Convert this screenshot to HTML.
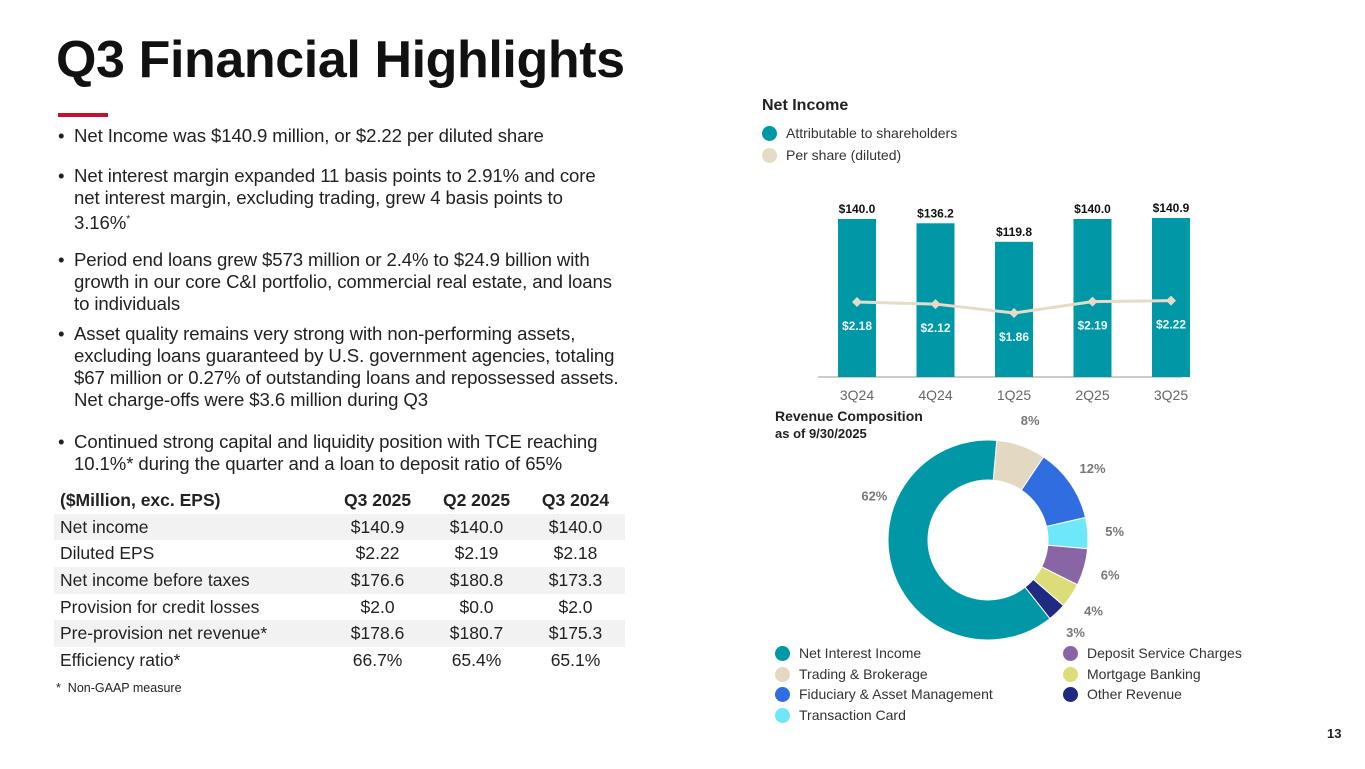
<!DOCTYPE html>
<html><head><meta charset="utf-8"><style>
body{margin:0;width:1365px;height:769px;background:#fff;font-family:"Liberation Sans",sans-serif;position:relative;overflow:hidden;color:#222}
.abs{position:absolute}
h1{position:absolute;left:56px;top:30px;margin:0;font-size:52px;font-weight:bold;color:#111;letter-spacing:-0.4px}
.bul{position:absolute;left:58px;font-size:18.6px;line-height:22px;color:#222;white-space:nowrap;letter-spacing:-0.1px}
.bul span.d{position:absolute;left:0}
.bul div{padding-left:16px}
table{position:absolute;left:54px;top:487px;width:571px;border-collapse:collapse;font-size:17.5px}
td,th{height:26.7px;padding:0 6px;text-align:center}
th{font-weight:bold}
td:first-child,th:first-child{text-align:left}
tr.s td{background:#f2f2f2}
.leg{position:absolute;font-size:14px;color:#333}
.dot{display:inline-block;width:15px;height:15px;border-radius:50%;vertical-align:-3px;margin-right:9px}
</style></head><body>
<h1>Q3 Financial Highlights</h1>
<div class="abs" style="left:58px;top:113px;width:50px;height:4px;background:#c8102e"></div>

<div class="bul" style="top:125px"><span class="d">•</span><div>Net Income was $140.9 million, or $2.22 per diluted share</div></div>
<div class="bul" style="top:165px"><span class="d">•</span><div>Net interest margin expanded 11 basis points to 2.91% and core<br>net interest margin, excluding trading, grew 4 basis points to<br>3.16%<sup style="font-size:10px">*</sup></div></div>
<div class="bul" style="top:249px"><span class="d">•</span><div>Period end loans grew $573 million or 2.4% to $24.9 billion with<br>growth in our core C&amp;I portfolio, commercial real estate, and loans<br>to individuals</div></div>
<div class="bul" style="top:323px"><span class="d">•</span><div>Asset quality remains very strong with non-performing assets,<br>excluding loans guaranteed by U.S. government agencies, totaling<br>$67 million or 0.27% of outstanding loans and repossessed assets.<br>Net charge-offs were $3.6 million during Q3</div></div>
<div class="bul" style="top:431px"><span class="d">•</span><div>Continued strong capital and liquidity position with TCE reaching<br>10.1%* during the quarter and a loan to deposit ratio of 65%</div></div>

<table>
<tr><th>($Million, exc. EPS)</th><th>Q3 2025</th><th>Q2 2025</th><th>Q3 2024</th></tr>
<tr class="s"><td>Net income</td><td>$140.9</td><td>$140.0</td><td>$140.0</td></tr>
<tr><td>Diluted EPS</td><td>$2.22</td><td>$2.19</td><td>$2.18</td></tr>
<tr class="s"><td>Net income before taxes</td><td>$176.6</td><td>$180.8</td><td>$173.3</td></tr>
<tr><td>Provision for credit losses</td><td>$2.0</td><td>$0.0</td><td>$2.0</td></tr>
<tr class="s"><td>Pre-provision net revenue*</td><td>$178.6</td><td>$180.7</td><td>$175.3</td></tr>
<tr><td>Efficiency ratio*</td><td>66.7%</td><td>65.4%</td><td>65.1%</td></tr>
</table>
<div class="abs" style="left:56px;top:681px;font-size:12.5px">*&nbsp; Non-GAAP measure</div>

<div class="abs" style="left:762px;top:97px;font-size:16px;font-weight:bold">Net Income</div>
<div class="leg" style="left:762px;top:125px"><span class="dot" style="background:#0097a7"></span>Attributable to shareholders</div>
<div class="leg" style="left:762px;top:147px"><span class="dot" style="background:#e6dcc6"></span>Per share (diluted)</div>

<svg class="abs" style="left:0;top:0" width="1365" height="769" id="svg">
<line x1="818" y1="377" x2="1182" y2="377" stroke="#999" stroke-width="1"/>
</svg>

<div class="abs" style="left:775px;top:408px;font-size:14px;font-weight:bold;line-height:17px">Revenue Composition<br><span style="font-size:13px">as of 9/30/2025</span></div>

<div class="leg" style="left:775px;top:645px"><span class="dot" style="background:#0097a7"></span>Net Interest Income</div>
<div class="leg" style="left:775px;top:666px"><span class="dot" style="background:#e3d9c3"></span>Trading &amp; Brokerage</div>
<div class="leg" style="left:775px;top:686px"><span class="dot" style="background:#2f6de0"></span>Fiduciary &amp; Asset Management</div>
<div class="leg" style="left:775px;top:707px"><span class="dot" style="background:#6ee7fa"></span>Transaction Card</div>
<div class="leg" style="left:1063px;top:645px"><span class="dot" style="background:#8a65a6"></span>Deposit Service Charges</div>
<div class="leg" style="left:1063px;top:666px"><span class="dot" style="background:#dcdc78"></span>Mortgage Banking</div>
<div class="leg" style="left:1063px;top:686px"><span class="dot" style="background:#1f2a80"></span>Other Revenue</div>
<div class="abs" style="left:1327px;top:726px;font-size:13px;font-weight:bold">13</div>

<script>
const quarters=["3Q24","4Q24","1Q25","2Q25","3Q25"];
const netIncome=[140.0,136.2,119.8,140.0,140.9];
const eps=[2.18,2.12,1.86,2.19,2.22];
const sliceLabels=["Trading & Brokerage","Fiduciary & Asset Management","Transaction Card","Deposit Service Charges","Mortgage Banking","Other Revenue","Net Interest Income"];
const slicePct=[8,12,5,6,4,3,62];
const sliceColors=["#e3d9c3","#2f6de0","#6ee7fa","#8a65a6","#dcdc78","#1f2a80","#0097a7"];

const NS="http://www.w3.org/2000/svg";
const svg=document.getElementById('svg');
function mk(t,a){const e=document.createElementNS(NS,t);for(const k in a)e.setAttribute(k,a[k]);svg.appendChild(e);return e;}
const base=377;
const xC=i=>857+i*78.5;
const yBar=v=>base-v*(158/140);
const yEps=v=>base-v*34.4;
quarters.forEach((q,i)=>{
  const r=mk('rect',{x:xC(i)-19,y:yBar(netIncome[i]),width:38,height:base-yBar(netIncome[i]),fill:'#0097a7'});
  
  
  const t=mk('text',{x:xC(i),y:yBar(netIncome[i])-6,'text-anchor':'middle','font-size':12,'font-weight':'bold',fill:'#111','font-family':'Liberation Sans'});
  t.textContent='$'+netIncome[i].toFixed(1);
  
  
  const x=mk('text',{x:xC(i),y:400,'text-anchor':'middle','font-size':14,fill:'#666','font-family':'Liberation Sans'});
  x.textContent=q;
  
  
});
const pl=mk('polyline',{points:eps.map((v,i)=>xC(i)+','+yEps(v)).join(' '),fill:'none',stroke:'#e6dcc6','stroke-width':3});


eps.forEach((v,i)=>{
  const x=xC(i),y=yEps(v);
  const d=mk('polygon',{points:`${x},${y-5} ${x+5},${y} ${x},${y+5} ${x-5},${y}`,fill:'#e6dcc6'});
  
  
  const t=mk('text',{x:x,y:y+28,'text-anchor':'middle','font-size':12,'font-weight':'bold',fill:'#eaf8f8','font-family':'Liberation Sans'});
  t.textContent='$'+v.toFixed(2);
  
  
});
// donut
const cx=988,cy=540,R=100,r0=60;
const tot=slicePct.reduce((a,b)=>a+b,0);
let a0=5*Math.PI/180;
const pt=(rad,a)=>[cx+rad*Math.sin(a),cy-rad*Math.cos(a)];
slicePct.forEach((p,i)=>{
  const a1=a0+p/tot*2*Math.PI;
  const lg=(a1-a0)>Math.PI?1:0;
  const [x1,y1]=pt(R,a0),[x2,y2]=pt(R,a1),[x3,y3]=pt(r0,a1),[x4,y4]=pt(r0,a0);
  const s=mk('path',{d:`M${x1},${y1}A${R},${R} 0 ${lg} 1 ${x2},${y2}L${x3},${y3}A${r0},${r0} 0 ${lg} 0 ${x4},${y4}Z`,fill:sliceColors[i],stroke:'#fff','stroke-width':1});
  
  
  let am=(a0+a1)/2;
  let off=27;
  if(p>50){am=a0+0.67*(a1-a0);off=22;}
  const [lx,ly]=pt(R+off,am);
  const t=mk('text',{x:lx,y:ly+5,'text-anchor':'middle','font-size':13,'font-weight':'bold',fill:'#777','font-family':'Liberation Sans'});
  t.textContent=p+'%';
  
  
  a0=a1;
});
</script>
</body></html>
